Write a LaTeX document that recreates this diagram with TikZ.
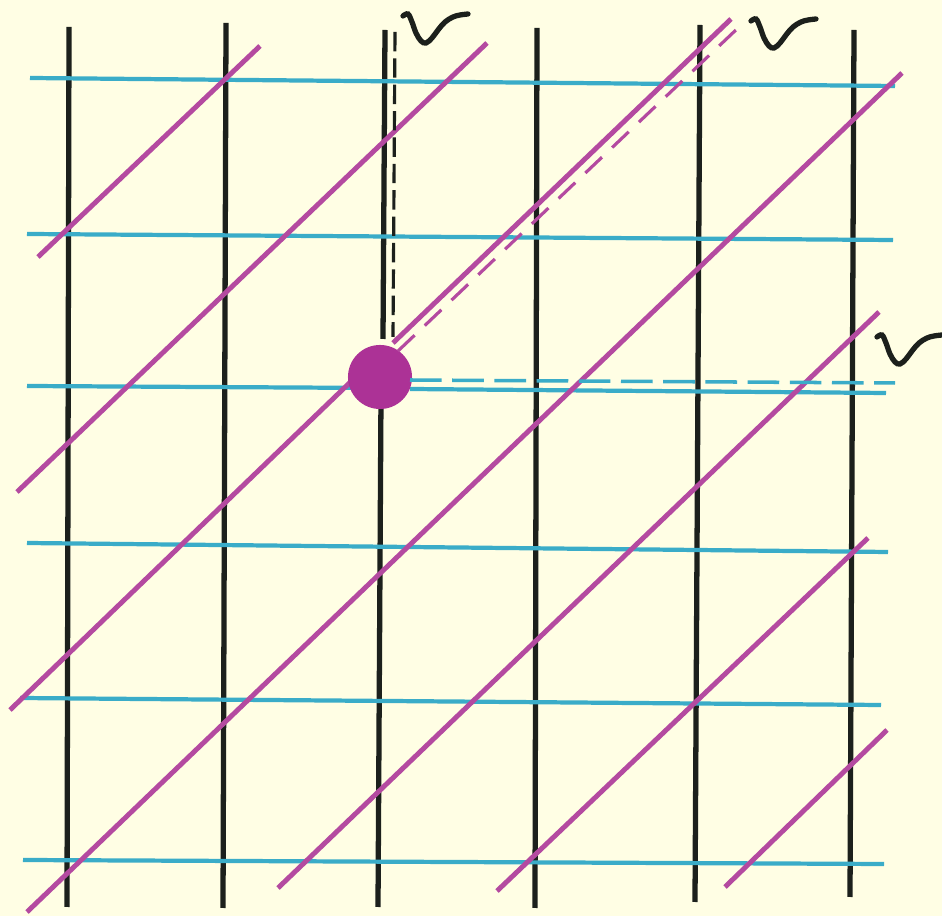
\documentclass[tikz,border=0pt]{standalone}
\usepackage{xcolor}
\usepackage{tikz}
\usetikzlibrary{positioning}
\definecolor{mypaper}{RGB}{255,254,228}
\definecolor{mycyan}{RGB}{58,172,200}
\definecolor{mymagenta}{RGB}{180,74,160}
\definecolor{mydot}{RGB}{172,50,150}
\definecolor{myblack}{RGB}{28,32,28}
\tikzset{
  wire/.style={line width=1.5pt, color=myblack},
  wiredash/.style={line width=0.9pt, color=myblack, dash pattern=on 5.5pt off 2pt},
  level/.style={line width=1.2pt, color=mycyan},
  leveldash/.style={line width=1.0pt, color=mycyan, dash pattern=on 9pt off 3pt},
  diag/.style={line width=1.4pt, color=mymagenta},
  diagdash/.style={line width=0.9pt, color=mymagenta, dash pattern=on 6.5pt off 4pt},
  event/.style={circle, fill=mydot, minimum size=0.64cm, inner sep=0pt},
  wiggle/.pic={
    \draw[line width=1.5pt, color=myblack, line cap=round]
      plot[smooth, tension=0.6] coordinates {(0,0) (5,-2) (9,6) (13,17) (18,25) (23,27) (29,22) (35,14) (42,6) (50,1) (57,-1) (65,-2)};
  }
}

\begin{document}
\begin{tikzpicture}[x=0.01cm, y=-0.01cm]
  \fill[mypaper] (0,0) rectangle (942,916);
  \useasboundingbox (0,0) rectangle (942,916);

  % Time axes
  \foreach \xa/\ya/\xb/\yb in {69/27/67/907, 226/23/223/908, 537/28/535/908, 700/25/695/902, 854/30/850/897}
    \draw[wire] (\xa,\ya) -- (\xb,\yb);
  \coordinate (wtop) at (385,30);
  \coordinate (wmid) at (383,339);
  \coordinate (wlow) at (381,395);
  \coordinate (wbot) at (378,907);
  \draw[wire] (wtop) -- (wmid);
  \draw[wire] (wlow) -- (wbot);

  % Levels
  \foreach \xa/\ya/\xb/\yb in {30/78/895/86, 27/234/893/240, 27/543/888/552, 20/698/881/705, 23/860/884/864}
    \draw[level] (\xa,\ya) -- (\xb,\yb);
  \coordinate (lleft) at (27,386);
  \coordinate (lin) at (380,388);
  \coordinate (lout) at (410,389);
  \coordinate (lend) at (886,393);
  \draw[level] (lleft) -- (lin);
  \draw[level] (lout) -- (lend);

  % Diagonals
  \foreach \xa/\ya/\xb/\yb in {38/257/260/46, 17/492/487/43, 27/912/902/73, 278/888/879/312, 497/891/868/538, 725/887/887/730}
    \draw[diag] (\xa,\ya) -- (\xb,\yb);
  \coordinate (dlow) at (10,710);
  \coordinate (din) at (365,368);
  \coordinate (dout) at (393,343);
  \coordinate (dtop) at (731,19);
  \draw[diag] (dlow) -- (din);
  \draw[diag] (dout) -- (dtop);

  % Event point
  \node[event] (hit) at (380,377) {};

  % Shifted copies
  \coordinate (wdashtop) at (395,32);
  \coordinate (wdashbot) at (393,337);
  \draw[wiredash] (wdashtop) -- (wdashbot);
  \coordinate (ldashin) at (410,380);
  \coordinate (ldashend) at (895,383);
  \draw[leveldash] (ldashin) -- (ldashend);
  \coordinate (ddashin) at (398,351);
  \coordinate (ddashtop) at (738,28);
  \draw[diagdash] (ddashin) -- (ddashtop);

  % Marks
  \pic (markw) at (403,16) {wiggle};
  \pic (markd) at (751,21) {wiggle};
  \pic (markl) at (877,337) {wiggle};
\end{tikzpicture}
\end{document}
